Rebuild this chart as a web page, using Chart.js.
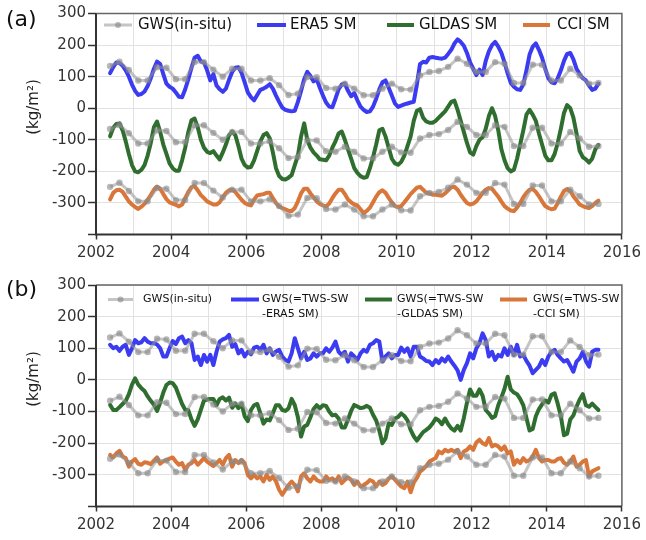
<!DOCTYPE html>
<html><head><meta charset="utf-8">
<script src="https://cdn.jsdelivr.net/npm/chart.js@4.4.0/dist/chart.umd.min.js"></script>
<style>html,body{margin:0;padding:0;background:#fff;}#wrap{position:relative;width:646px;height:540px;}canvas{position:absolute;left:0;}</style>
</head><body><div id="wrap"><canvas id="ca" width="646" height="270" style="top:0"></canvas><canvas id="cb" width="646" height="270" style="top:270px"></canvas></div>
<script>
// ---------- DATA ----------
const monthlyStart = 2002.375;   // May 2002 (decimal year), monthly steps
const insituStart = 2002.375;    // quarterly steps
const insitu = [134,147,121,88,88,130,128,92,92,146,146,122,100,125,125,88,88,95,73,42,46,99,98,64,62,78,62,41,41,62,78,60,59,104,115,118,131,157,141,115,115,146,141,80,80,138,138,88,88,125,104,78,80];
const insituOffsets = [0, -200, -383];

const era5A = [111,130,145,143,135,120,100,75,
55,42,45,53,70,95,125,148,140,108,78,68,
62,50,36,35,60,92,128,160,166,148,145,120,
88,108,72,60,52,62,90,115,128,130,112,82,
50,35,25,42,58,62,68,76,62,40,20,2,
-5,-8,-10,-8,20,55,92,115,102,85,92,65,
40,18,5,3,30,60,75,78,55,38,48,25,
5,-5,-12,-10,5,30,60,82,88,65,40,15,
4,8,12,15,18,20,75,140,147,145,160,162,
160,158,157,160,172,185,205,218,210,198,175,145,
125,105,122,105,150,180,200,210,195,175,145,110,
80,68,60,58,75,120,170,195,205,185,160,125,
95,82,79,95,120,150,172,175,155,125,108,95,
88,72,58,62,78];
const gldasA = [-89,-62,-50,-48,-70,-105,-145,-180,
-200,-203,-195,-180,-150,-110,-60,-42,-75,-115,-145,-175,
-190,-198,-198,-165,-125,-75,-38,-33,-60,-100,-125,-138,
-142,-136,-150,-162,-140,-115,-85,-74,-85,-120,-160,-180,
-188,-186,-165,-135,-105,-85,-79,-95,-140,-190,-215,-224,
-226,-220,-212,-180,-150,-90,-48,-100,-125,-140,-150,-162,
-163,-165,-150,-125,-105,-80,-74,-100,-130,-160,-190,-205,
-215,-220,-218,-190,-155,-115,-70,-65,-90,-125,-160,-175,
-179,-170,-150,-120,-90,-40,-8,-3,-30,-42,-46,-46,
-40,-30,-20,-10,5,20,24,-5,-40,-75,-110,-140,
-147,-120,-100,-92,-65,-25,0,-25,-70,-130,-165,-190,
-200,-195,-160,-115,-70,-20,-5,-20,-40,-80,-115,-150,
-165,-165,-145,-110,-65,-15,10,0,-30,-80,-135,-155,
-162,-172,-160,-130,-116];
const cciA = [-289,-268,-260,-258,-265,-280,-295,-305,
-313,-319,-312,-303,-290,-275,-258,-248,-255,-272,-288,-298,
-302,-306,-311,-305,-285,-265,-250,-247,-260,-275,-285,-295,
-300,-305,-305,-298,-282,-268,-260,-258,-265,-278,-290,-300,
-305,-308,-290,-276,-274,-272,-268,-268,-285,-300,-312,-316,
-320,-325,-326,-316,-295,-270,-255,-255,-270,-283,-295,-303,
-308,-311,-302,-285,-270,-258,-258,-272,-289,-298,-305,-308,
-320,-332,-325,-315,-298,-280,-266,-260,-268,-284,-298,-310,
-313,-310,-298,-285,-272,-262,-252,-249,-258,-268,-270,-274,
-274,-276,-277,-270,-260,-250,-249,-258,-274,-288,-300,-305,
-302,-295,-282,-268,-258,-253,-255,-268,-280,-296,-310,-318,
-324,-326,-315,-300,-282,-268,-258,-256,-265,-279,-295,-310,
-316,-320,-318,-300,-280,-262,-256,-262,-279,-292,-305,-310,
-314,-316,-310,-300,-293];

const era5B = [111,100,105,92,105,111,79,100,
126,116,119,132,121,116,116,112,100,74,74,100,
123,113,132,137,116,126,116,63,74,47,79,58,
79,47,89,121,128,132,142,105,113,84,95,74,
89,81,102,105,95,111,84,100,79,90,95,74,
63,58,84,132,100,68,89,63,68,84,74,84,
84,100,89,102,121,89,79,89,58,84,74,63,
84,95,89,111,116,126,121,58,74,84,68,79,
79,102,89,100,74,105,105,74,68,60,58,47,
63,53,68,58,74,58,45,30,0,32,53,84,
68,100,116,147,126,74,89,63,79,74,100,79,
105,79,111,74,79,60,45,21,32,42,63,47,
74,89,95,79,68,58,63,45,26,58,68,89,
60,42,89,95,95];
const gldasB = [-79,-95,-95,-86,-76,-66,-45,-15,
5,-15,-26,-35,-52,-66,-78,-98,-72,-40,-16,-8,
-10,-24,-50,-76,-94,-96,-125,-145,-125,-95,-65,-62,
-60,-60,-80,-60,-55,-65,-56,-88,-74,-89,-75,-115,
-130,-95,-80,-76,-105,-138,-125,-128,-105,-80,-80,-95,
-98,-90,-60,-80,-118,-179,-147,-142,-118,-92,-80,-90,
-80,-82,-100,-112,-110,-122,-150,-150,-125,-98,-79,-84,
-89,-87,-82,-88,-110,-128,-160,-200,-185,-137,-142,-122,
-117,-106,-114,-128,-158,-178,-192,-178,-165,-158,-150,-138,
-122,-128,-140,-122,-140,-153,-160,-145,-160,-120,-72,-30,
-50,-50,-30,-50,-95,-106,-120,-115,-80,-55,-28,10,
-30,-40,-45,-60,-80,-120,-160,-155,-115,-92,-77,-65,
-72,-47,-42,-75,-115,-175,-170,-125,-112,-85,-62,-45,
-80,-85,-75,-85,-95];
const cciB = [-237,-245,-232,-224,-242,-247,-274,-258,
-250,-265,-268,-260,-262,-266,-255,-245,-265,-257,-253,-249,
-245,-258,-268,-263,-284,-268,-263,-253,-268,-258,-247,-258,
-265,-272,-263,-253,-268,-247,-237,-274,-253,-263,-253,-263,
-300,-311,-300,-311,-305,-321,-300,-316,-305,-321,-347,-363,
-347,-332,-321,-332,-352,-305,-295,-311,-321,-305,-316,-321,
-321,-305,-316,-311,-321,-305,-326,-316,-308,-316,-332,-321,
-337,-332,-326,-316,-321,-337,-321,-332,-326,-311,-305,-315,
-326,-337,-342,-321,-355,-325,-310,-290,-282,-272,-258,-252,
-247,-226,-232,-221,-226,-221,-226,-221,-247,-226,-221,-210,
-221,-198,-189,-200,-205,-184,-210,-205,-210,-221,-210,-232,
-226,-268,-253,-263,-247,-258,-253,-242,-221,-247,-258,-253,
-253,-258,-258,-250,-247,-262,-268,-258,-242,-274,-268,-258,
-253,-305,-289,-284,-279];

const namesA = ['GWS(in-situ)', 'ERA5 SM', 'GLDAS SM', 'CCI SM'];
const namesB = ['GWS(in-situ)', ['GWS(=TWS-SW','-ERA5 SM)'], ['GWS(=TWS-SW','-GLDAS SM)'], ['GWS(=TWS-SW','-CCI SM)']];
const panelLabels = ['(a)', '(b)'];
const yTitle = '(kg/m\u00B2)';

// ---------- STYLE ----------
const C_GRAY = 'rgba(150,150,150,0.55)';
const C_GRAYDOT = 'rgba(135,135,135,0.6)';
const C_BLUE = '#3b3bf2';
const C_GREEN = '#2f6e2f';
const C_ORANGE = '#d9773b';
const FONT = '"DejaVu Sans", Verdana, sans-serif';

function monthly(arr){ return arr.map((v,i)=>({x: monthlyStart + i/12, y: v})); }
function quarterly(arr, off){ return arr.map((v,i)=>({x: insituStart + i*0.25, y: v + off})); }

function datasets(era, gl, cc){
  const ds = [];
  insituOffsets.forEach((off)=>ds.push({data: quarterly(insitu, off), borderColor: C_GRAY, borderWidth: 3,
    pointRadius: 3.2, pointBackgroundColor: C_GRAYDOT, pointBorderWidth: 0, tension: 0}));
  [[era,C_BLUE],[gl,C_GREEN],[cc,C_ORANGE]].forEach(([a,c])=>ds.push({data: monthly(a), borderColor: c,
    borderWidth: 4, pointRadius: 0, tension: 0, borderJoinStyle: 'round', borderCapStyle: 'round'}));
  return ds;
}

const deco = {
  id: 'deco',
  afterDraw(chart, args, o){
    const ctx = chart.ctx, a = chart.chartArea;
    ctx.save();
    ctx.strokeStyle = '#666'; ctx.lineWidth = 1.5;
    ctx.beginPath(); ctx.moveTo(a.left, a.top); ctx.lineTo(a.right, a.top); ctx.lineTo(a.right, a.bottom); ctx.stroke();
    ctx.strokeStyle = '#333'; ctx.lineWidth = 2;
    ctx.beginPath(); ctx.moveTo(a.left, a.top); ctx.lineTo(a.left, a.bottom); ctx.lineTo(a.right, a.bottom); ctx.stroke();
    ctx.fillStyle = '#111'; ctx.font = '22px ' + FONT; ctx.textBaseline = 'middle'; ctx.textAlign = 'left';
    ctx.fillText(o.label, 6, o.labelY);
    ctx.save(); ctx.translate(34, o.titleY); ctx.rotate(-Math.PI/2);
    ctx.font = '15px ' + FONT; ctx.fillStyle = '#222'; ctx.textAlign = 'center';
    ctx.fillText(yTitle, 0, 0); ctx.restore();
    ctx.font = o.legendFont + 'px ' + FONT; ctx.textBaseline = 'middle'; ctx.textAlign = 'left';
    o.legend.forEach((it, k)=>{
      const ds = chart.data.datasets[k === 0 ? 0 : k + 2];
      ctx.strokeStyle = ds.borderColor; ctx.lineWidth = k === 0 ? 3 : 4; ctx.lineCap = 'butt';
      ctx.beginPath(); ctx.moveTo(it[0], o.legendY); ctx.lineTo(it[1], o.legendY); ctx.stroke();
      if (k === 0){ ctx.fillStyle = C_GRAYDOT; ctx.beginPath(); ctx.arc((it[0]+it[1])/2, o.legendY, 3, 0, Math.PI*2); ctx.fill(); }
      ctx.fillStyle = '#111';
      const t = o.names[k]; const lines = Array.isArray(t) ? t : [t];
      lines.forEach((s,j)=>ctx.fillText(s, it[2], o.legendY + j*o.lineH));
    });
    ctx.restore();
  }
};

function makeChart(id, dsets, top, bottom, decoOpts){
  return new Chart(document.getElementById(id), {
    type: 'line',
    data: {datasets: dsets},
    plugins: [deco],
    options: {
      responsive: false, animation: false, events: [],
      layout: {padding: {top: top, right: 19, left: 0, bottom: 0}},
      plugins: {legend: {display: false}, tooltip: {enabled: false}, deco: decoOpts},
      scales: {
        x: {type: 'linear', min: 2002, max: 2016,
          afterFit: s => { s.height = 270 - bottom; },
          border: {display: false},
          grid: {color: '#e2e2e2', lineWidth: 1, tickLength: 5, tickWidth: 1.5,
            tickColor: c => (c.tick && c.tick.value % 2 === 0) ? '#333' : 'rgba(0,0,0,0)'},
          ticks: {stepSize: 1, autoSkip: false, maxRotation: 0, padding: 5, color: '#333',
            font: {family: FONT, size: 15},
            callback: v => (v % 2 === 0 ? String(v) : '')}},
        y: {type: 'linear', min: -400, max: 300,
          afterFit: s => { s.width = 96; },
          border: {display: false},
          grid: {color: '#e2e2e2', lineWidth: 1, tickLength: 8, tickWidth: 1.5, tickColor: '#333'},
          ticks: {stepSize: 100, padding: 2, color: '#333', font: {family: FONT, size: 15},
            callback: v => (v === -400 ? '' : String(v))}}
      }
    }
  });
}

makeChart('ca', datasets(era5A, gldasA, cciA), 13.5, 234.5, {
  label: panelLabels[0], labelY: 20, titleY: 107, legendFont: 15, legendY: 25, lineH: 16, names: namesA,
  legend: [[104,132,138],[257,286,290],[387,414,419],[523,550,557]]
});
makeChart('cb', datasets(era5B, gldasB, cciB), 15, 236.5, {
  label: panelLabels[1], labelY: 20, titleY: 109, legendFont: 11, legendY: 29.5, lineH: 14.5, names: namesB,
  legend: [[108,133,143],[231,259,262],[365,392,397],[500,527,533]]
});
</script></body></html>
